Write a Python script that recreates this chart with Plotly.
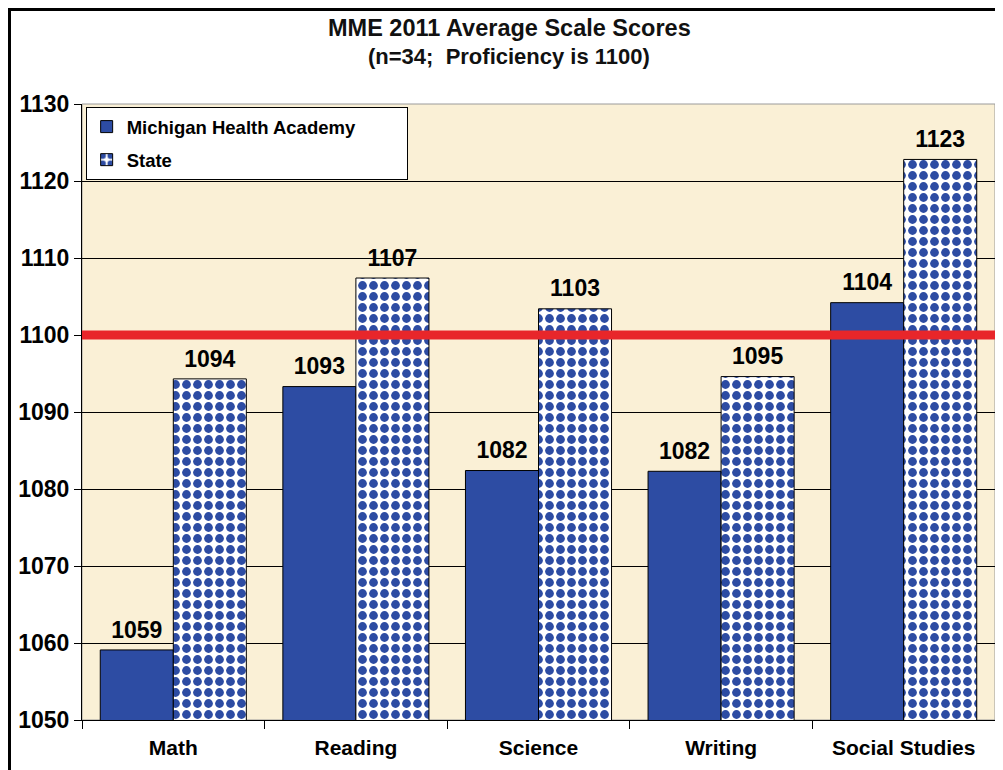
import plotly.graph_objects as go

categories = ["Math", "Reading", "Science", "Writing", "Social Studies"]
academy_scores = [1059.1, 1093.3, 1082.4, 1082.3, 1104.2]
state_scores = [1094.3, 1107.4, 1103.4, 1094.6, 1122.8]
proficiency = 1100
y_ticks = [1050, 1060, 1070, 1080, 1090, 1100, 1110, 1120, 1130]

FONT = "Arial, Liberation Sans, sans-serif"
BLUE = "#2D4CA3"
BEIGE = "#FAF0D6"

fig = go.Figure()
fig.add_trace(go.Bar(
    x=categories, y=academy_scores,
    name="Michigan Health Academy" + "\u00a0" * 9,
    offsetgroup="mha", legendgroup="mha",
    marker=dict(color=BLUE, line=dict(color="black", width=1)),
    hoverinfo="x+y",
))
fig.add_trace(go.Bar(
    x=categories, y=state_scores, name="State",
    offsetgroup="state", legendgroup="state",
    marker=dict(color="white", line=dict(color="black", width=1),
                pattern=dict(shape=".", fgcolor=BLUE, bgcolor="white",
                             fgopacity=1, size=11, solidity=0.5,
                             fillmode="replace")),
    hoverinfo="x+y",
))
# value labels (grouped scatter text aligned with the bars)
for vals, grp in [(academy_scores, "mha"), (state_scores, "state")]:
    fig.add_trace(go.Scatter(
        x=categories, y=vals, mode="markers+text",
        offsetgroup=grp, showlegend=False, hoverinfo="skip",
        marker=dict(size=9, opacity=0),
        texttemplate="%{y:.0f}", textposition="top center", cliponaxis=False,
        textfont=dict(family=FONT, size=23, color="black", weight="bold"),
    ))

W, H = 995, 762
ML, MR, MT, MB = 74, 8, 96, 50
pw, ph = W - ML - MR, H - MT - MB

fig.update_layout(
    width=W, height=H,
    margin=dict(l=ML, r=MR, t=MT, b=MB, pad=0),
    paper_bgcolor="white", plot_bgcolor=BEIGE,
    barmode="group", bargap=0.2, bargroupgap=0,
    scattermode="group", scattergap=0.2,
    legend=dict(
        x=0.004, y=0.995, xanchor="left", yanchor="top",
        bgcolor="white", bordercolor="black", borderwidth=1,
        font=dict(family=FONT, size=18.5, color="black", weight="bold"),
        traceorder="grouped", tracegroupgap=6,
    ),
    xaxis=dict(
        showline=True, linecolor="black", linewidth=1,
        ticks="outside", tickson="boundaries", ticklen=8, tickcolor="black",
        tickfont=dict(family=FONT, size=21, color="black", weight="bold"),
        ticklabelstandoff=9,
        showgrid=False,
    ),
    yaxis=dict(
        range=[1050, 1130], tickvals=y_ticks,
        showline=True, linecolor="black", linewidth=1,
        ticks="outside", ticklen=7, tickcolor="black",
        tickfont=dict(family=FONT, size=23, color="black", weight="bold"),
        showgrid=True, gridcolor="black", gridwidth=1,
        zeroline=False,
    ),
    showlegend=True,
    annotations=[
        dict(text="MME 2011 Average Scale Scores", xref="paper", yref="paper",
             x=(501 - ML) / pw, y=1 + (MT - 20) / ph, xanchor="center", yanchor="middle",
             showarrow=False, font=dict(family=FONT, size=23.5, color="#111", weight="bold")),
        dict(text="(n=34;  Proficiency is 1100)", xref="paper", yref="paper",
             x=(501 - ML) / pw, y=1 + (MT - 49) / ph, xanchor="center", yanchor="middle",
             showarrow=False, font=dict(family=FONT, size=22, color="#111", weight="bold")),
    ],
)

# plot area border (light gray)
fig.add_shape(type="rect", xref="paper", yref="paper", x0=0, x1=1, y0=0, y1=1,
              line=dict(color="#9a9a9a", width=1), layer="below")
# proficiency line
fig.add_shape(type="line", xref="paper", yref="y", x0=0, x1=1,
              y0=proficiency, y1=proficiency,
              line=dict(color="#E8262A", width=9), layer="above")
# outer frame
fig.add_shape(type="rect", xref="paper", yref="paper",
              x0=(1.5 - ML) / pw, x1=(W + 10 - ML) / pw,
              y0=-(MB + 20) / ph, y1=1 + (MT - 1.5) / ph,
              line=dict(color="black", width=3), layer="above")

fig.write_html("out.html")
